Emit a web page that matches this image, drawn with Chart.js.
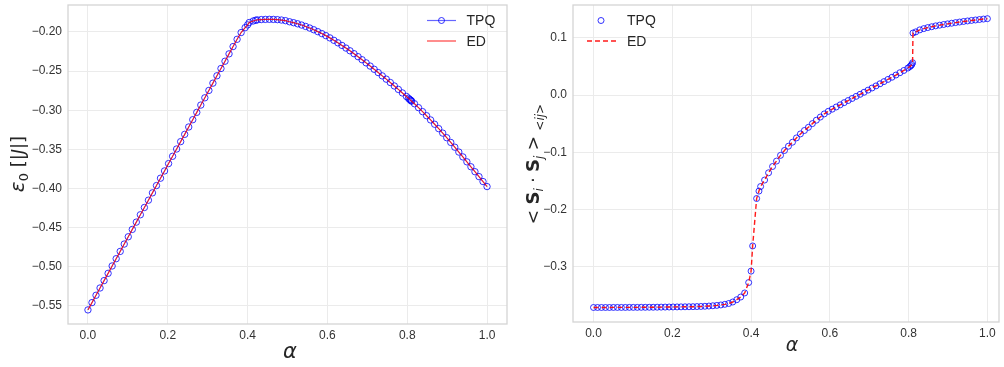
<!DOCTYPE html>
<html>
<head>
<meta charset="utf-8">
<script src="https://cdn.jsdelivr.net/npm/chart.js@4.4.1/dist/chart.umd.min.js"></script>
<style>
  html, body { margin: 0; padding: 0; background: #fff; }
  #wrap { position: relative; width: 1004px; height: 367px; overflow: hidden; }
  .panel { position: absolute; top: 0; height: 367px; }
  #left { left: 0; width: 512px; }
  #right { left: 512px; width: 492px; }
</style>
</head>
<body>
<div id="wrap">
  <div class="panel" id="left"><canvas id="energyChart"></canvas></div>
  <div class="panel" id="right"><canvas id="corrChart"></canvas></div>
</div>
<script>
// coupling ratio alpha (shared by both panels)
const alpha = [
  0.0000, 0.0101, 0.0202, 0.0303, 0.0404, 0.0505, 0.0606, 0.0707, 0.0808, 0.0909,
  0.1010, 0.1111, 0.1212, 0.1313, 0.1414, 0.1515, 0.1616, 0.1717, 0.1818, 0.1919,
  0.2020, 0.2121, 0.2222, 0.2323, 0.2424, 0.2525, 0.2626, 0.2727, 0.2828, 0.2929,
  0.3030, 0.3131, 0.3232, 0.3333, 0.3434, 0.3535, 0.3636, 0.3737, 0.3838, 0.3939,
  0.4000, 0.4040, 0.4141, 0.4200, 0.4242, 0.4343, 0.4444, 0.4545, 0.4646, 0.4747,
  0.4848, 0.4949, 0.5051, 0.5152, 0.5253, 0.5354, 0.5455, 0.5556, 0.5657, 0.5758,
  0.5859, 0.5960, 0.6061, 0.6162, 0.6263, 0.6364, 0.6465, 0.6566, 0.6667, 0.6768,
  0.6869, 0.6970, 0.7071, 0.7172, 0.7273, 0.7374, 0.7475, 0.7576, 0.7677, 0.7778,
  0.7879, 0.7980, 0.8030, 0.8060, 0.8081, 0.8100, 0.8110, 0.8182, 0.8283, 0.8384,
  0.8485, 0.8586, 0.8687, 0.8788, 0.8889, 0.8990, 0.9091, 0.9192, 0.9293, 0.9394,
  0.9495, 0.9596, 0.9697, 0.9798, 0.9899, 1.0000
];

// ground state energy per site (left panel)
const energy = [
  -0.5550, -0.5457, -0.5363, -0.5270, -0.5176, -0.5083, -0.4989, -0.4896, -0.4803, -0.4709,
  -0.4616, -0.4522, -0.4429, -0.4335, -0.4242, -0.4149, -0.4055, -0.3962, -0.3868, -0.3775,
  -0.3681, -0.3588, -0.3495, -0.3401, -0.3308, -0.3214, -0.3121, -0.3027, -0.2934, -0.2841,
  -0.2747, -0.2654, -0.2560, -0.2467, -0.2374, -0.2280, -0.2187, -0.2094, -0.2008, -0.1945,
  -0.1910, -0.1880, -0.1860, -0.1851, -0.1846, -0.1842, -0.1840, -0.1839, -0.1840, -0.1843,
  -0.1848, -0.1856, -0.1870, -0.1882, -0.1896, -0.1912, -0.1930, -0.1950, -0.1972, -0.1996,
  -0.2021, -0.2047, -0.2076, -0.2107, -0.2139, -0.2172, -0.2206, -0.2241, -0.2278, -0.2316,
  -0.2355, -0.2395, -0.2436, -0.2477, -0.2519, -0.2561, -0.2603, -0.2646, -0.2690, -0.2734,
  -0.2779, -0.2824, -0.2847, -0.2861, -0.2870, -0.2879, -0.2884, -0.2917, -0.2967, -0.3018,
  -0.3070, -0.3124, -0.3179, -0.3235, -0.3292, -0.3351, -0.3411, -0.3472, -0.3534, -0.3596,
  -0.3659, -0.3722, -0.3785, -0.3848, -0.3911, -0.3975
];

// nearest-neighbour spin correlation (right panel)
const spinCorr = [
  -0.3716, -0.3716, -0.3716, -0.3716, -0.3716, -0.3715, -0.3715, -0.3715, -0.3715, -0.3714,
  -0.3714, -0.3714, -0.3713, -0.3713, -0.3712, -0.3712, -0.3711, -0.3710, -0.3709, -0.3708,
  -0.3707, -0.3706, -0.3705, -0.3704, -0.3703, -0.3702, -0.3700, -0.3698, -0.3695, -0.3691,
  -0.3686, -0.3680, -0.3672, -0.3661, -0.3646, -0.3620, -0.3580, -0.3533, -0.3462, -0.3280,
  -0.3080, -0.2640, -0.1810, -0.1680, -0.1600, -0.1487, -0.1360, -0.1250, -0.1155, -0.1055,
  -0.0970, -0.0895, -0.0825, -0.0750, -0.0680, -0.0620, -0.0565, -0.0500, -0.0440, -0.0385,
  -0.0330, -0.0285, -0.0247, -0.0209, -0.0171, -0.0133, -0.0096, -0.0060, -0.0023, 0.0013,
  0.0049, 0.0086, 0.0123, 0.0160, 0.0197, 0.0235, 0.0273, 0.0311, 0.0350, 0.0390,
  0.0430, 0.0472, 0.0497, 0.0515, 0.0535, 0.0565, 0.1085, 0.1105, 0.1140, 0.1162,
  0.1180, 0.1195, 0.1210, 0.1222, 0.1234, 0.1245, 0.1256, 0.1267, 0.1277, 0.1287,
  0.1296, 0.1305, 0.1313, 0.1321, 0.1329, 0.1336
];

const alphaTicks = [0.0, 0.2, 0.4, 0.6, 0.8, 1.0];
const energyTicks = [-0.55, -0.50, -0.45, -0.40, -0.35, -0.30, -0.25, -0.20];
const corrTicks = [-0.3, -0.2, -0.1, 0.0, 0.1];

const FONT = "'Liberation Sans', Arial, sans-serif";
const MATH = "'DejaVu Sans', sans-serif";
const gridColor = '#ebebeb';
const textColor = '#333333';

function fmt(v, d) {
  if (Math.abs(v) < 1e-9) v = 0;
  return v.toFixed(d).replace('-', '\u2212');
}

function pts(ys) {
  return alpha.map((a, i) => ({ x: a, y: ys[i] }));
}

function scales(o) {
  return {
    x: {
      type: 'linear', min: o.xMin, max: o.xMax,
      afterBuildTicks: ax => { ax.ticks = alphaTicks.map(v => ({ value: v })); },
      afterFit: ax => { ax.height = o.xHeight; ax.paddingLeft = 0; ax.paddingRight = 0; },
      grid: { color: gridColor, lineWidth: 1, drawTicks: false },
      border: { display: false },
      ticks: { color: textColor, font: { family: FONT, size: 12 }, padding: 4,
               autoSkip: false, maxRotation: 0, callback: v => fmt(v, 1) }
    },
    y: {
      type: 'linear', min: o.yMin, max: o.yMax,
      afterBuildTicks: ax => { ax.ticks = o.yTicks.map(v => ({ value: v })); },
      afterFit: ax => { ax.width = o.yWidth; ax.paddingTop = 0; ax.paddingBottom = 0; },
      grid: { color: gridColor, lineWidth: 1, drawTicks: false },
      border: { display: false },
      ticks: { color: textColor, font: { family: FONT, size: 12 }, padding: 6,
               autoSkip: false, callback: v => fmt(v, o.digits) }
    }
  };
}

// mixed-font text (sub/italic/bold), optionally rotated
function richText(ctx, pieces, x, y, angle) {
  ctx.save();
  ctx.translate(x, y);
  ctx.rotate(angle);
  ctx.fillStyle = '#262626';
  ctx.textBaseline = 'alphabetic';
  ctx.textAlign = 'left';
  let total = 0;
  pieces.forEach(p => { ctx.font = p.f; p.w = ctx.measureText(p.t).width; total += p.w; });
  let cx = -total / 2;
  pieces.forEach(p => {
    ctx.font = p.f;
    ctx.fillText(p.t, cx, 6 + (p.dy || 0));
    cx += p.w;
  });
  ctx.restore();
}

const decor = {
  id: 'decor',
  afterDraw(chart, args, o) {
    const ctx = chart.ctx;
    const a = chart.chartArea;
    ctx.save();
    ctx.strokeStyle = '#d4d4d4';
    ctx.lineWidth = 1.3;
    ctx.strokeRect(a.left, a.top, a.right - a.left, a.bottom - a.top);

    richText(ctx, o.yTitle, o.yTitlePos[0], o.yTitlePos[1], -Math.PI / 2);
    richText(ctx, o.xTitle, o.xTitlePos[0], o.xTitlePos[1], 0);

    // legend
    o.legend.forEach(item => {
      const [x0, x1, y] = item.line;
      if (item.stroke) {
        ctx.beginPath();
        ctx.strokeStyle = item.stroke;
        ctx.lineWidth = item.width;
        ctx.setLineDash(item.dash || []);
        ctx.moveTo(x0, y); ctx.lineTo(x1, y);
        ctx.stroke();
        ctx.setLineDash([]);
      }
      if (item.marker) {
        ctx.beginPath();
        ctx.strokeStyle = 'rgba(0,0,255,0.8)';
        ctx.lineWidth = 1;
        ctx.arc((x0 + x1) / 2, y, 3, 0, Math.PI * 2);
        ctx.stroke();
      }
      ctx.fillStyle = '#262626';
      ctx.font = '14px ' + FONT;
      ctx.textBaseline = 'middle';
      ctx.textAlign = 'left';
      ctx.fillText(item.label, item.tx, y + 1);
    });
    ctx.restore();
  }
};

Chart.register(decor);

const common = {
  responsive: true,
  maintainAspectRatio: false,
  animation: false,
  events: [],
  elements: { line: { tension: 0 } }
};

new Chart(document.getElementById('energyChart'), {
  type: 'line',
  data: {
    datasets: [
      {
        label: 'TPQ', data: pts(energy), order: 2,
        borderColor: 'rgba(0,0,255,0.55)', borderWidth: 1,
        pointRadius: 3.2, pointBorderWidth: 1,
        pointBorderColor: 'rgba(0,0,255,0.8)', pointBackgroundColor: 'rgba(0,0,0,0)'
      },
      {
        label: 'ED', data: pts(energy), order: 1,
        borderColor: 'rgba(255,0,0,0.8)', borderWidth: 1.2, pointRadius: 0
      }
    ]
  },
  options: {
    ...common,
    layout: { padding: { top: 3, right: 4, left: 0, bottom: 0 } },
    scales: scales({ xMin: -0.05, xMax: 1.05, yMin: -0.5730, yMax: -0.1656,
                     yTicks: energyTicks, digits: 2, yWidth: 68, xHeight: 43 }),
    plugins: {
      legend: { display: false },
      tooltip: { enabled: false },
      decor: {
        yTitle: [
          { t: '\u03b5', f: 'italic 20px ' + MATH },
          { t: '0', f: '13px ' + MATH, dy: 4 },
          { t: ' [|', f: '18px ' + MATH },
          { t: 'J', f: 'italic 18px ' + MATH },
          { t: '|]', f: '18px ' + MATH }
        ],
        yTitlePos: [18, 164],
        xTitle: [{ t: '\u03b1', f: 'italic 21px ' + MATH }],
        xTitlePos: [290, 352],
        legend: [
          { label: 'TPQ', line: [427, 456, 20.5], stroke: 'rgba(0,0,255,0.6)', width: 1.2, marker: true, tx: 466.5 },
          { label: 'ED', line: [427, 456, 41], stroke: 'rgba(255,0,0,0.75)', width: 1.2, tx: 466.5 }
        ]
      }
    }
  }
});

new Chart(document.getElementById('corrChart'), {
  type: 'line',
  data: {
    datasets: [
      {
        label: 'TPQ', data: pts(spinCorr), order: 2, showLine: false,
        pointRadius: 3, pointBorderWidth: 1,
        pointBorderColor: 'rgba(0,0,255,0.8)', pointBackgroundColor: 'rgba(0,0,0,0)'
      },
      {
        label: 'ED', data: pts(spinCorr), order: 1,
        borderColor: 'rgba(255,0,0,0.9)', borderWidth: 1.4, borderDash: [5, 3], pointRadius: 0
      }
    ]
  },
  options: {
    ...common,
    layout: { padding: { top: 3, right: 1, left: 0, bottom: 0 } },
    scales: scales({ xMin: -0.0521, xMax: 1.0294, yMin: -0.3970, yMax: 0.1575,
                     yTicks: corrTicks, digits: 1, yWidth: 61, xHeight: 45 }),
    plugins: {
      legend: { display: false },
      tooltip: { enabled: false },
      decor: {
        yTitle: [
          { t: '< ', f: '17px ' + MATH },
          { t: 'S', f: 'bold 18px ' + MATH },
          { t: 'i', f: 'italic 12px ' + MATH, dy: 4 },
          { t: ' \u00b7 ', f: '17px ' + MATH },
          { t: 'S', f: 'bold 18px ' + MATH },
          { t: 'j', f: 'italic 12px ' + MATH, dy: 4 },
          { t: ' > ', f: '17px ' + MATH },
          { t: '<ij>', f: 'italic 12px ' + MATH, dy: 5 }
        ],
        yTitlePos: [21, 164],
        xTitle: [{ t: '\u03b1', f: 'italic 19px ' + MATH }],
        xTitlePos: [280, 345],
        legend: [
          { label: 'TPQ', line: [84, 94, 20.5], marker: true, tx: 115 },
          { label: 'ED', line: [75, 104, 41], stroke: 'rgba(255,0,0,0.9)', width: 1.4, dash: [5, 3], tx: 115 }
        ]
      }
    }
  }
});
</script>
</body>
</html>
